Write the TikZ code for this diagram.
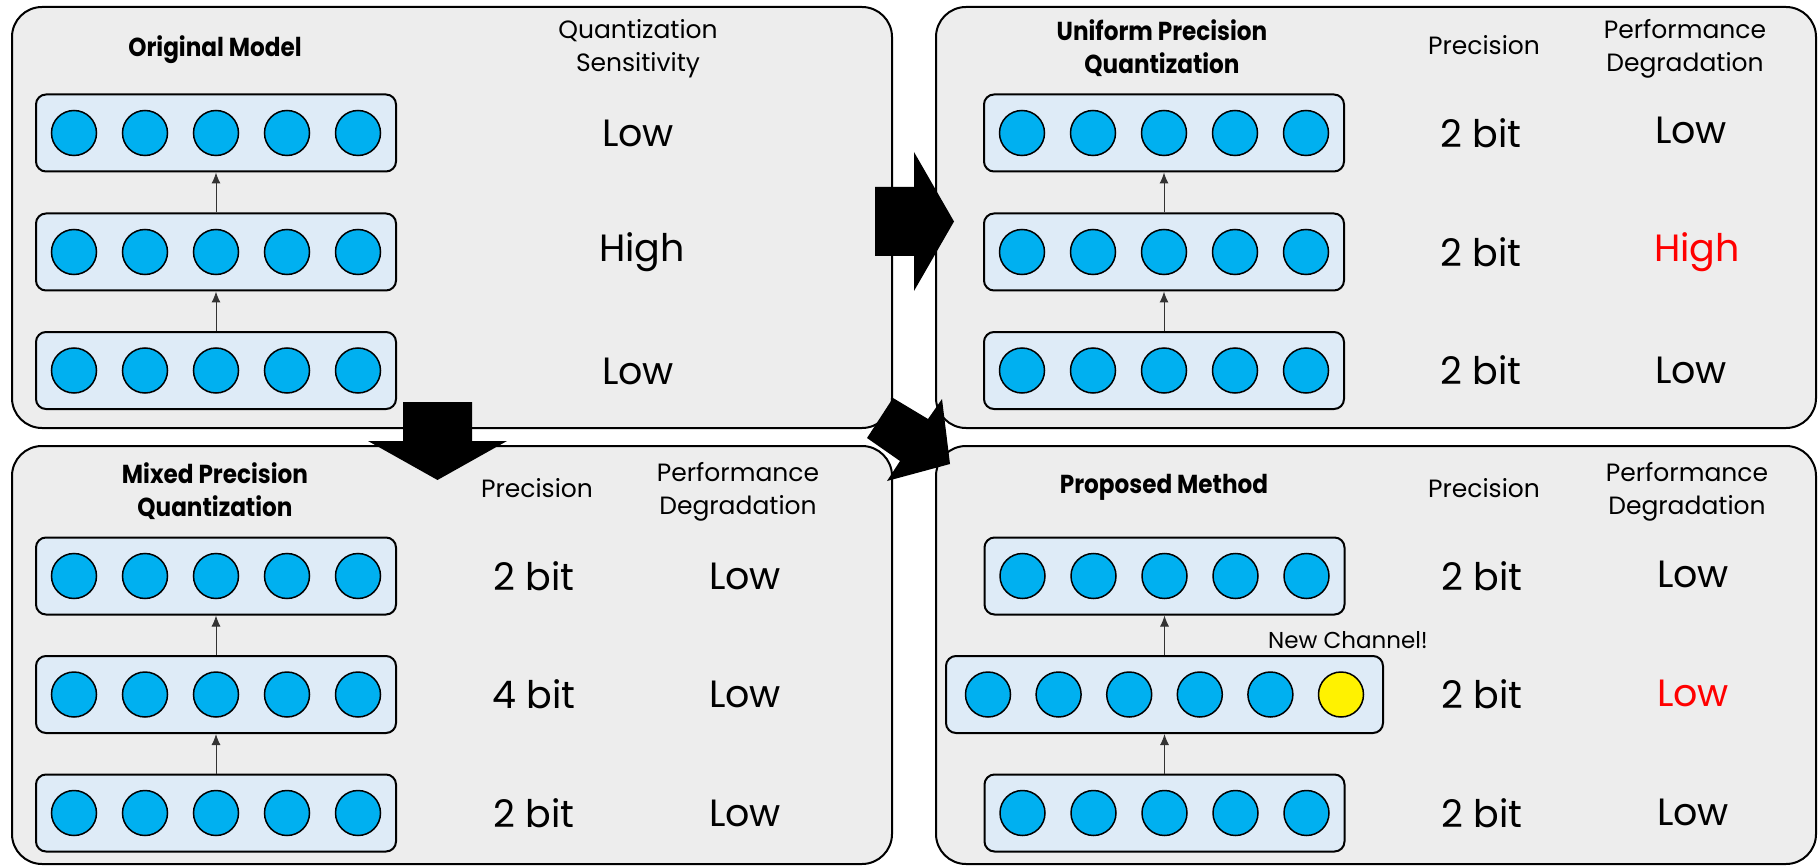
\documentclass[tikz,border=0pt]{standalone}
\usepackage{fontspec}
\setmainfont{Poppins}[BoldFeatures={FakeStretch=0.89}]
\usepackage{xcolor}
\usetikzlibrary{arrows.meta, positioning, calc}

\definecolor{panelgray}{HTML}{EDEDED}
\definecolor{layerblue}{HTML}{DEEBF7}
\definecolor{neuroncyan}{HTML}{00B0F0}

\tikzset{
  panel/.style={draw, line width=1pt, fill=panelgray, rounded corners=15pt},
  layerbox/.style={draw, line width=1pt, fill=layerblue, rounded corners=5pt,
    minimum width=180pt, minimum height=38.5pt, inner sep=0pt},
  neuron/.style={circle, draw, line width=0.75pt, fill=neuroncyan,
    minimum size=22.5pt, inner sep=0pt},
  coltitle/.style={font=\fontsize{13}{16.5}\selectfont\bfseries, align=center},
  colhead/.style={font=\fontsize{12.5}{16.5}\selectfont, align=center},
  valtext/.style={font=\fontsize{19}{22}\selectfont},
  flow/.style={->, line width=0.5pt, black!80},
}

\begin{document}
\begin{tikzpicture}[>={Latex[length=5.5pt,width=4.5pt]}, x=0.5pt, y=-0.5pt]
    \useasboundingbox (0,0) rectangle (1820,866);

    % 1. Four panels
    \draw[panel] (12,7) rectangle (892,428);
    \draw[panel] (936,7) rectangle (1816,428);
    \draw[panel] (12,446) rectangle (892,864);
    \draw[panel] (936,446) rectangle (1816,864);

    % 2. Original model (top left)
    \node[coltitle] (om) at (215,50) {Original Model};
    \node[colhead] (qs) at (638,48.5) {Quantization\\Sensitivity};
    \foreach \n/\y in {1/370.5, 2/252, 3/133} {
        \node[layerbox] (a\n) at (216,\y) {};
        \foreach \i in {1,...,5}
            \node[neuron] (a\n-\i) at ({216+(\i-3)*71},\y) {};
    }
    \draw[flow] (a1) -- (a2);
    \draw[flow] (a2) -- (a3);
    \node[valtext] (a3s) at (638,133) {Low};
    \node[valtext] (a2s) at (642,252) {High};
    \node[valtext] (a1s) at (638,371) {Low};

    % 3. Uniform precision quantization (top right)
    \node[coltitle] (up) at (1162,48.5) {Uniform Precision\\Quantization};
    \node[colhead] (bp) at (1484,45) {Precision};
    \node[colhead] (bd) at (1685,48.5) {Performance\\Degradation};
    \foreach \n/\y in {1/370.5, 2/252, 3/133} {
        \node[layerbox] (b\n) at (1164,\y) {};
        \foreach \i in {1,...,5}
            \node[neuron] (b\n-\i) at ({1164+(\i-3)*71},\y) {};
        \node[valtext] (b\n p) at (1481,\y) {2 bit};
    }
    \draw[flow] (b1) -- (b2);
    \draw[flow] (b2) -- (b3);
    \node[valtext] (b3d) at (1691,130) {Low};
    \node[valtext, text=red] (b2d) at (1697,252) {High};
    \node[valtext] (b1d) at (1691,370) {Low};

    % 4. Mixed precision quantization (bottom left)
    \node[coltitle] (mp) at (215,491) {Mixed Precision\\Quantization};
    \node[colhead] (cp) at (537,488) {Precision};
    \node[colhead] (cd) at (738,491.5) {Performance\\Degradation};
    \foreach \n/\y/\b in {1/813/2, 2/694.5/4, 3/576/2} {
        \node[layerbox] (c\n) at (216,\y) {};
        \foreach \i in {1,...,5}
            \node[neuron] (c\n-\i) at ({216+(\i-3)*71},\y) {};
        \node[valtext] (c\n p) at (534,\y) {\b{} bit};
        \node[valtext] (c\n d) at (745,\y) {Low};
    }
    \draw[flow] (c1) -- (c2);
    \draw[flow] (c2) -- (c3);

    % 5. Proposed method (bottom right)
    \node[coltitle] (pm) at (1164,487) {Proposed Method};
    \node[colhead] (dp) at (1484,488) {Precision};
    \node[colhead] (dd) at (1687,491.5) {Performance\\Degradation};
    \foreach \n/\y in {1/813, 3/576} {
        \node[layerbox] (d\n) at (1164.5,\y) {};
        \foreach \i in {1,...,5}
            \node[neuron] (d\n-\i) at ({1164.5+(\i-3)*71},\y) {};
    }
    \node[layerbox, minimum width=218.5pt] (d2) at (1164.5,694.5) {};
    \foreach \i in {1,...,5}
        \node[neuron] (d2-\i) at ({1164.5+(\i-3.5)*70.6},694.5) {};
    \node[neuron, fill=yellow] (d2-6) at ({1164.5+2.5*70.6},694.5) {};
    \node[font=\fontsize{11.5}{14}\selectfont] (nc) at (1348,640) {New Channel!};
    \draw[flow] (d1) -- (d2);
    \draw[flow] (d2) -- (d3);
    \foreach \n/\y in {1/813, 2/694.5, 3/576} {
        \node[valtext] (d\n p) at (1482,\y) {2 bit};
    }
    \node[valtext] (d3d) at (1693,574) {Low};
    \node[valtext, text=red] (d2d) at (1693,693) {Low};
    \node[valtext] (d1d) at (1693,812) {Low};

    % 6. Block arrows between the panels
    \fill (875,187) -- (914,187) -- (914,152) -- (954,221.5) -- (914,291)
        -- (914,256) -- (875,256) -- cycle;
    \fill (403,402) -- (472,402) -- (472,441) -- (507,441) -- (437.5,480)
        -- (368,441) -- (403,441) -- cycle;
    \fill (893,398) -- (928,419) -- (942,399) -- (950,464) -- (887,481)
        -- (900,461) -- (867,438) -- cycle;
\end{tikzpicture}
\end{document}
